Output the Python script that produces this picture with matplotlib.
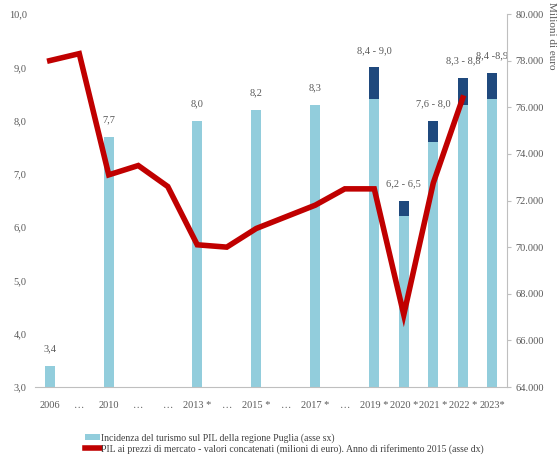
import matplotlib
matplotlib.use("Agg")
import matplotlib.pyplot as plt
from matplotlib.patches import Patch
from matplotlib.lines import Line2D
from matplotlib.ticker import FuncFormatter, MultipleLocator
import numpy as np

categories = ["2006", "…", "2010", "…", "…", "2013 *", "…", "2015 *", "…",
              "2017 *", "…", "2019 *", "2020 *", "2021 *", "2022 *", "2023*"]

# Tourism share of GDP (left axis) - light part (lower bound)
share_low = [3.4, None, 7.7, None, None, 8.0, None, 8.2, None, 8.3, None, 8.4, 6.2, 7.6, 8.3, 8.4]
# Upper bound of range (dark part) where present
share_high = [None, None, None, None, None, None, None, None, None, None, None, 9.0, 6.5, 8.0, 8.8, 8.9]
bar_labels = ["3,4", "", "7,7", "", "", "8,0", "", "8,2", "", "8,3", "",
              "8,4 - 9,0", "6,2 - 6,5", "7,6 - 8,0", "8,3 - 8,8", "8,4 -8,9"]

# GDP at market prices, chained values, millions of euro (right axis)
pil = [78000, 78300, 73100, 73500, 72600, 70100, 70000, 70800, 71300,
       71800, 72500, 72500, 67100, 72750, 76400, None]

light_blue = "#92CDDC"
dark_blue = "#1F497D"
red = "#C00000"
gray_text = "#595959"
spine_gray = "#BFBFBF"

plt.rcParams["font.family"] = ["Liberation Serif", "DejaVu Serif"]

fig = plt.figure(figsize=(5.6, 4.67), dpi=100)
ax = fig.add_axes([0.0625, 0.1713, 0.8429, 0.7987])

x = np.arange(len(categories))
w = 0.34
for i in range(len(categories)):
    lo = share_low[i]
    if lo is None:
        continue
    ax.bar(x[i], lo, width=w, color=light_blue, zorder=2)
    top = lo
    if share_high[i] is not None:
        ax.bar(x[i], share_high[i] - lo, bottom=lo, width=w, color=dark_blue, zorder=2)
        top = share_high[i]
    ax.annotate(bar_labels[i], (x[i], top), xytext=(0, 9), textcoords="offset points",
                ha="center", va="bottom", fontsize=7.5, color=gray_text)

ax.set_xlim(-0.5, len(categories) - 0.5)
ax.set_ylim(3.0, 10.0)
ax.yaxis.set_major_locator(MultipleLocator(1.0))
ax.yaxis.set_major_formatter(FuncFormatter(lambda v, p: f"{v:.1f}".replace(".", ",")))
ax.set_xticks(x)
ax.set_xticklabels(categories)
ax.tick_params(axis="y", length=0, labelsize=7.5, labelcolor=gray_text, pad=6)
ax.tick_params(axis="x", length=0, labelsize=7.5, labelcolor=gray_text, pad=10)
for s in ["top", "left", "right"]:
    ax.spines[s].set_visible(False)
ax.spines["bottom"].set_color(spine_gray)

ax2 = ax.twinx()
px = [x[i] for i in range(len(pil)) if pil[i] is not None]
py = [v for v in pil if v is not None]
ax2.plot(px, py, color=red, lw=4, solid_joinstyle="miter", zorder=3)
ax2.set_ylim(64000, 80000)
ax2.yaxis.set_major_locator(MultipleLocator(2000))
ax2.yaxis.set_major_formatter(FuncFormatter(lambda v, p: f"{int(v):,}".replace(",", ".")))
ax2.tick_params(axis="y", length=3, color=spine_gray, labelsize=7.5, labelcolor=gray_text, pad=3)
for s in ["top", "left", "bottom"]:
    ax2.spines[s].set_visible(False)
ax2.spines["right"].set_color(spine_gray)

fig.text(0.985, 0.995, "Milioni di euro", rotation=270, ha="center", va="top",
         fontsize=8, color=gray_text)

handles = [Patch(facecolor=light_blue, edgecolor="none"),
           Line2D([0], [0], color=red, lw=4)]
labels = ["Incidenza del turismo sul PIL della regione Puglia (asse sx)",
          "PIL ai prezzi di mercato - valori concatenati (milioni di euro). Anno di riferimento 2015 (asse dx)"]
fig.legend(handles, labels, loc="upper left", bbox_to_anchor=(0.143, 0.083),
           frameon=False, fontsize=7, handlelength=1.6, handletextpad=0.1,
           labelspacing=0.15, borderpad=0, labelcolor="#404040")

fig.savefig("out.png", dpi=100)
